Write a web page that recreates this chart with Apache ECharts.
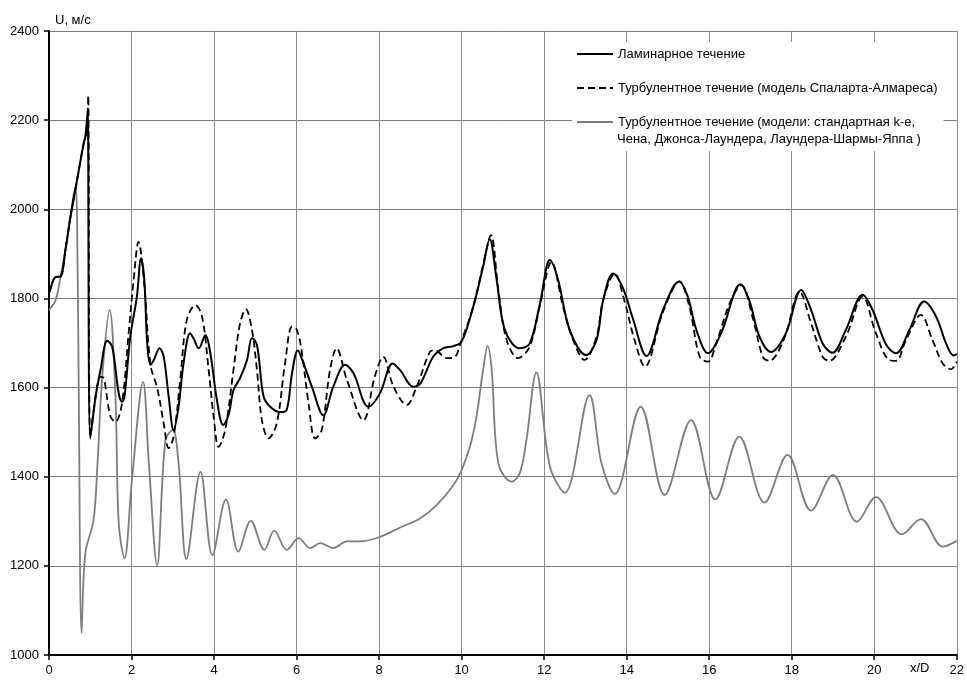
<!DOCTYPE html>
<html>
<head>
<meta charset="utf-8">
<script src="https://cdn.jsdelivr.net/npm/echarts@6/dist/echarts.min.js"></script>
<style>
html,body{margin:0;padding:0;background:#fff;}
#chart{width:967px;height:681px;}
</style>
</head>
<body>
<div id="chart"></div>
<script>
// Laminar flow (solid)
const lamX = [0,0.04,0.1,0.16,0.28,0.4,0.52,0.65,0.84,0.88,0.92,0.94,1.0,1.13,1.25,1.41,1.53,1.69,1.77,1.83,1.97,2.13,2.23,2.31,2.38,2.46,2.54,2.68,2.78,2.9,3.02,3.14,3.26,3.42,3.5,3.63,3.79,3.91,4.07,4.22,4.35,4.47,4.63,4.8,4.92,5.04,5.2,5.36,5.6,5.76,5.89,6.03,6.17,6.37,6.65,6.89,7.18,7.38,7.74,8.02,8.33,8.51,8.83,9.0,9.31,9.55,9.8,10.0,10.28,10.52,10.68,10.85,11.05,11.41,11.65,11.9,12.14,12.34,12.62,13.02,13.27,13.43,13.67,13.91,14.15,14.48,14.88,15.27,15.48,15.69,15.97,16.29,16.76,16.98,17.22,17.5,17.86,18.23,18.47,18.75,18.99,19.31,19.72,19.96,20.29,20.53,20.85,21.21,21.5,21.74,21.92,22.0];
const lamY = [1812,1823,1840,1848,1849,1910,1983,2050,2148,2163,2200,2222,1486,1580,1640,1705,1692,1587,1568,1580,1714,1804,1890,1841,1699,1651,1662,1688,1669,1580,1505,1557,1654,1722,1711,1688,1718,1677,1572,1516,1538,1594,1621,1662,1711,1696,1580,1557,1545,1550,1632,1683,1654,1602,1538,1602,1651,1632,1557,1587,1654,1639,1602,1609,1669,1688,1693,1703,1781,1871,1933,1841,1729,1688,1699,1789,1886,1841,1729,1673,1707,1796,1856,1823,1755,1671,1774,1838,1804,1729,1677,1722,1832,1793,1714,1680,1722,1819,1774,1699,1678,1729,1808,1774,1696,1677,1729,1793,1759,1699,1672,1675];

// Turbulent, Spalart-Allmaras (dashed)
const saX = [0,0.04,0.1,0.16,0.28,0.4,0.52,0.65,0.84,0.88,0.92,0.95,1.0,1.13,1.22,1.29,1.49,1.61,1.77,1.93,2.05,2.17,2.3,2.46,2.62,2.78,2.9,3.02,3.18,3.34,3.55,3.71,3.87,3.99,4.11,4.27,4.47,4.63,4.77,4.92,5.04,5.16,5.32,5.52,5.72,5.89,6.01,6.13,6.29,6.45,6.61,6.81,6.97,7.22,7.62,7.9,8.1,8.35,8.67,8.91,9.23,9.35,9.64,9.84,9.96,10.28,10.52,10.71,10.89,11.09,11.37,11.65,11.9,12.18,12.46,12.7,12.98,13.27,13.43,13.71,13.95,14.19,14.44,14.88,15.28,15.52,15.77,15.97,16.17,16.5,16.78,17.06,17.3,17.46,17.81,18.19,18.47,18.75,18.91,19.31,19.72,20.04,20.36,20.53,20.77,21.13,21.41,21.66,21.86,22.0];
const saY = [1812,1823,1840,1848,1849,1910,1983,2050,2148,2160,2175,2255,1490,1580,1622,1624,1535,1523,1565,1722,1840,1927,1841,1651,1600,1520,1464,1490,1617,1752,1785,1759,1639,1535,1467,1505,1639,1744,1776,1729,1639,1527,1486,1520,1654,1737,1729,1677,1565,1486,1505,1639,1688,1617,1527,1626,1669,1602,1561,1602,1680,1684,1666,1669,1696,1781,1875,1942,1819,1707,1666,1692,1785,1882,1781,1707,1662,1714,1796,1856,1793,1707,1647,1770,1838,1781,1669,1658,1699,1790,1830,1755,1669,1660,1708,1815,1744,1669,1660,1714,1804,1722,1662,1660,1707,1763,1707,1654,1641,1658];

// Turbulent, k-e and others (grey)
const keX = [0,0.16,0.28,0.4,0.52,0.64,0.68,0.72,0.79,0.88,1.08,1.17,1.29,1.47,1.61,1.69,1.83,2.01,2.28,2.42,2.62,2.82,3.0,3.14,3.33,3.67,3.96,4.29,4.59,4.89,5.22,5.46,5.76,6.05,6.33,6.57,6.89,7.22,7.54,8.02,8.51,9.0,9.4,9.8,10.0,10.2,10.36,10.52,10.63,10.73,10.89,11.21,11.41,11.57,11.81,12.14,12.5,13.1,13.39,13.71,14.34,14.92,15.56,16.15,16.73,17.34,17.9,18.47,19.0,19.58,20.04,20.67,21.13,21.66,22.0];
const keY = [1774,1796,1849,1910,1983,2050,1980,1600,1050,1228,1303,1420,1624,1774,1580,1296,1217,1393,1613,1430,1201,1482,1505,1430,1215,1411,1224,1349,1232,1301,1236,1279,1236,1262,1240,1251,1240,1255,1255,1265,1286,1307,1337,1381,1415,1467,1535,1639,1693,1639,1430,1389,1408,1482,1634,1423,1364,1583,1430,1361,1557,1359,1527,1349,1490,1342,1449,1324,1404,1299,1354,1271,1305,1243,1256];

const seriesNames = [
  'Ламинарное течение',
  'Турбулентное течение (модель Спаларта-Алмареса)',
  'Турбулентное течение (модели: стандартная k-e, Чена, Джонса-Лаундера, Лаундера-Шармы-Яппа )'
];
const legendLine1 = 'Турбулентное течение (модели: стандартная k-e,';
const legendLine2 = 'Чена, Джонса-Лаундера, Лаундера-Шармы-Яппа )';

function zip(xs, ys){ return xs.map((x,i)=>[x, ys[i]]); }

const chart = echarts.init(document.getElementById('chart'), null, {renderer:'canvas'});
const font = 'Liberation Sans, Arial, sans-serif';
chart.setOption({
  animation:false,
  backgroundColor:'#fff',
  grid:{left:49, right:9, top:31, bottom:26},
  xAxis:{
    type:'value', min:0, max:22, interval:2,
    axisLine:{lineStyle:{color:'#000', width:2}},
    axisTick:{show:true, length:5, lineStyle:{color:'#000', width:1.5}},
    axisLabel:{color:'#000', fontSize:13, fontFamily:font, margin:9},
    splitLine:{show:true, lineStyle:{color:'#8a8a8a', width:1}}
  },
  yAxis:{
    type:'value', min:1000, max:2400, interval:200,
    name:'U, м/с',
    nameLocation:'end',
    nameGap:4,
    nameTextStyle:{color:'#000', fontSize:13, fontFamily:font, align:'left', padding:[0,0,0,6]},
    axisLine:{show:true, lineStyle:{color:'#000', width:2}},
    axisTick:{show:true, length:5, lineStyle:{color:'#000', width:1.5}},
    axisLabel:{color:'#000', fontSize:13, fontFamily:font, margin:10, formatter:(v)=>String(v)},
    splitLine:{show:true, lineStyle:{color:'#7a7a7a', width:1}}
  },
  legend:{
    orient:'vertical',
    left:572, top:42,
    padding:[3,6,20,4],
    itemGap:16,
    itemWidth:36, itemHeight:14,
    backgroundColor:'#fff',
    itemStyle:{opacity:0},
    textStyle:{color:'#000', fontSize:13, fontFamily:font, lineHeight:18},
    formatter:(name)=> name === seriesNames[2] ? legendLine1 : name,
    data:seriesNames
  },
  graphic:[
    {type:'text', left:617, top:133, z:200,
     style:{text:legendLine2, fill:'#000', font:'13px Liberation Sans, Arial, sans-serif'}},
    {type:'text', left:910, top:662,
     style:{text:'x/D', fill:'#000', font:'13px Liberation Sans, Arial, sans-serif'}}
  ],
  series:[
    {name:seriesNames[2], type:'line', data:zip(keX,keY), symbol:'none', smooth:0.35, z:2,
     lineStyle:{color:'#7d7d7d', width:1.8}, itemStyle:{color:'#7d7d7d'}},
    {name:seriesNames[1], type:'line', data:zip(saX,saY), symbol:'none', smooth:0.35, z:3,
     lineStyle:{color:'#000', width:1.8, type:[7,4]}, itemStyle:{color:'#000'}},
    {name:seriesNames[0], type:'line', data:zip(lamX,lamY), symbol:'none', smooth:0.35, z:4,
     lineStyle:{color:'#000', width:2}, itemStyle:{color:'#000'}}
  ]
});
</script>
</body>
</html>
